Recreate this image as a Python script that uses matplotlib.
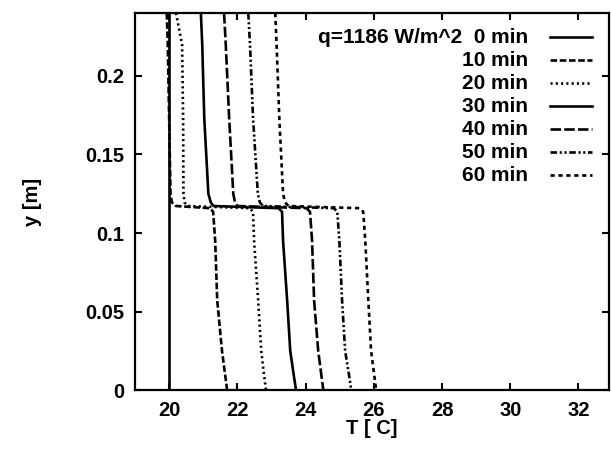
import matplotlib
matplotlib.use("Agg")
import matplotlib.pyplot as plt
import numpy as np

plt.rcParams['font.family'] = ['Liberation Sans', 'DejaVu Sans']
plt.rcParams['font.weight'] = 'bold'

# data
times = ["0 min", "10 min", "20 min", "30 min", "40 min", "50 min", "60 min"]
heat_flux = "q=1186 W/m^2"

# 0 min: uniform temperature
T_initial = 20.0

# upper layer (above the step), y in m
y_upper = [0.24, 0.22, 0.173, 0.125, 0.1195, 0.1172]
T_upper = [
    [19.93, 19.96, 20.00, 20.04, 20.08, 20.20],
    [20.20, 20.38, 20.41, 20.42, 20.45, 20.55],
    [20.93, 20.97, 21.03, 21.15, 21.22, 21.30],
    [21.61, 21.66, 21.76, 21.88, 21.93, 22.00],
    [22.32, 22.37, 22.46, 22.60, 22.66, 22.75],
    [23.11, 23.15, 23.23, 23.34, 23.40, 23.50],
]

# lower layer (below the step)
y_lower = [0.1158, 0.1135, 0.095, 0.057, 0.025, 0.01, 0.0]
T_lower = [
    [21.20, 21.29, 21.35, 21.41, 21.55, 21.64, 21.70],
    [22.36, 22.46, 22.49, 22.61, 22.70, 22.78, 22.84],
    [23.21, 23.31, 23.34, 23.46, 23.55, 23.65, 23.72],
    [24.03, 24.13, 24.19, 24.25, 24.37, 24.46, 24.52],
    [24.83, 24.93, 24.99, 25.07, 25.16, 25.27, 25.34],
    [25.59, 25.69, 25.75, 25.84, 25.92, 26.01, 26.07],
]

styles = [
    '-',
    (0, (2.5, 1)),
    (0, (0.8, 1.2)),
    '-',
    (0, (4, 1.2)),
    (0, (2.5, 1, 0.8, 1, 0.8, 1)),
    (0, (1.6, 1.4)),
]

fig = plt.figure(figsize=(6.11, 4.49), dpi=100)
ax = fig.add_axes([0.221, 0.131, 0.776, 0.840])

lw = 1.9
ax.plot([T_initial, T_initial], [0, 0.24], color='black', lw=lw, ls=styles[0])
for i in range(6):
    T = T_upper[i] + T_lower[i]
    y = y_upper + y_lower
    ax.plot(T, y, color='black', lw=lw, ls=styles[i + 1])

ax.set_xlim(19.0, 32.9)
ax.set_ylim(0, 0.24)
ax.set_xticks(np.arange(20, 33, 2))
ax.set_yticks([0, 0.05, 0.1, 0.15, 0.2])
ax.set_yticklabels(["0", "0.05", "0.1", "0.15", "0.2"])
ax.tick_params(direction='in', length=5, width=1.5, top=True, right=True,
               labelsize=14.5, pad=8)
for s in ax.spines.values():
    s.set_linewidth(1.6)

ax.set_xlabel("T [ C]", fontsize=14.5, fontweight='bold', labelpad=-1)
ax.set_ylabel("y [m]", fontsize=14.5, fontweight='bold', labelpad=31)

# gnuplot style key, top right
key_x_text = 0.829
key_x0 = 0.876
key_x1 = 0.964
key_y0 = 0.936
key_dy = 0.061
for i, lab in enumerate(times):
    yy = key_y0 - i * key_dy
    txt = lab if i > 0 else heat_flux + "  " + lab
    ax.text(key_x_text, yy, txt, transform=ax.transAxes, ha='right', va='center',
            fontsize=15, fontweight='bold')
    ax.plot([key_x0, key_x1], [yy, yy], transform=ax.transAxes, color='black',
            lw=lw, ls=styles[i])

fig.savefig("out.png", dpi=100)
